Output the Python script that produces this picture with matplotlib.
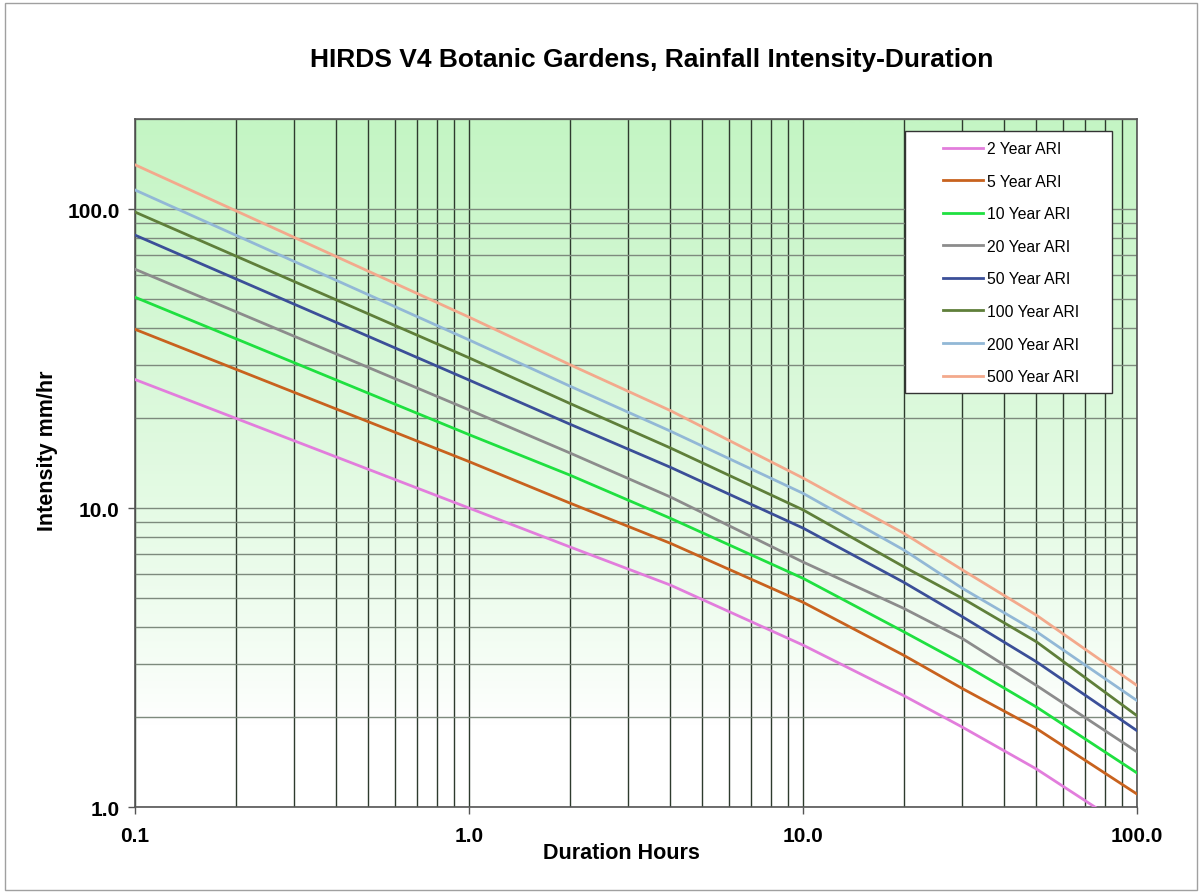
import matplotlib.pyplot as plt
import numpy as np
from matplotlib.colors import LinearSegmentedColormap
from matplotlib.ticker import LogLocator, FixedLocator, NullFormatter

plt.rcParams['font.family'] = ['Liberation Sans', 'DejaVu Sans']

# Durations (hours) at which the curves were read
duration = [0.1, 1, 2, 4, 10, 20, 30, 50, 100]

# Intensity mm/hr for each ARI
ari_2 = [26.9, 10.0, 7.42, 5.53, 3.48, 2.36, 1.85, 1.34, 0.81]
ari_5 = [39.6, 14.3, 10.4, 7.63, 4.84, 3.22, 2.49, 1.83, 1.105]
ari_10 = [50.7, 17.6, 12.9, 9.25, 5.82, 3.86, 3.02, 2.16, 1.30]
ari_20 = [62.9, 21.3, 15.3, 10.9, 6.6, 4.62, 3.66, 2.55, 1.53]
ari_50 = [81.8, 26.8, 19.1, 13.7, 8.57, 5.65, 4.33, 3.06, 1.80]
ari_100 = [97.7, 31.8, 22.4, 15.9, 9.86, 6.37, 4.99, 3.57, 2.02]
ari_200 = [115.8, 36.5, 25.6, 18.1, 11.2, 7.25, 5.39, 3.86, 2.27]
ari_500 = [140.6, 43.5, 30.2, 21.2, 12.6, 8.24, 6.21, 4.38, 2.55]

labels = ['2 Year ARI', '5 Year ARI', '10 Year ARI', '20 Year ARI',
          '50 Year ARI', '100 Year ARI', '200 Year ARI', '500 Year ARI']
colors = ['#e27ddc', '#c8621e', '#1fe040', '#8c8c8c',
          '#3b4f98', '#5f7f3a', '#92b8d6', '#f3a98c']
series = [ari_2, ari_5, ari_10, ari_20, ari_50, ari_100, ari_200, ari_500]

xticks = [0.1, 1, 10, 100]
xticklabels = ['0.1', '1.0', '10.0', '100.0']
yticks = [1, 10, 100]
yticklabels = ['1.0', '10.0', '100.0']

fig = plt.figure(figsize=(12.02, 8.95), dpi=100)
ax = fig.add_axes([0.1123, 0.0972, 0.8336, 0.7687])

# chart border
fig.patches.append(plt.Rectangle((0.004, 0.004), 0.992, 0.992, transform=fig.transFigure,
                                 fill=False, edgecolor='#a0a0a0', linewidth=1))

# green-to-white background gradient
grad = np.linspace(0, 1, 256).reshape(-1, 1)
grad = np.clip((grad - 0.12) / 0.88, 0, 1) ** 0.8
cmap = LinearSegmentedColormap.from_list('bg', ['#ffffff', '#c4f5c4'])
ax.imshow(grad, aspect='auto', cmap=cmap, origin='lower',
          extent=[0, 1, 0, 1], transform=ax.transAxes, zorder=0)

for vals, lab, col in zip(series, labels, colors):
    ax.plot(duration, vals, color=col, linewidth=2, label=lab, zorder=3)

ax.set_xscale('log')
ax.set_yscale('log')
ax.set_xlim(0.1, 100)
ax.set_ylim(1, 200)

ax.xaxis.set_major_locator(FixedLocator(xticks))
ax.set_xticklabels(xticklabels, fontsize=15, fontweight='bold')
ax.yaxis.set_major_locator(FixedLocator(yticks))
ax.set_yticklabels(yticklabels, fontsize=15, fontweight='bold')
ax.xaxis.set_minor_locator(LogLocator(base=10, subs=np.arange(2, 10)))
ax.yaxis.set_minor_locator(LogLocator(base=10, subs=np.arange(2, 10)))
ax.xaxis.set_minor_formatter(NullFormatter())
ax.yaxis.set_minor_formatter(NullFormatter())
ax.tick_params(which='minor', length=0)
ax.tick_params(which='major', length=5, width=1, color='#555555', pad=6)
ax.tick_params(axis='x', which='major', pad=9)

ax.grid(True, axis='x', which='both', color='#2e3b2e', linewidth=1, zorder=1)
ax.grid(True, axis='y', which='both', color='#7d8a7d', linewidth=1, zorder=1)
ax.set_axisbelow(True)

for s in ax.spines.values():
    s.set_color('#555555')
    s.set_linewidth(1.2)

ax.set_xlabel('Duration Hours', fontsize=15.5, fontweight='bold')
ax.set_ylabel('Intensity mm/hr', fontsize=15.5, fontweight='bold')
ax.xaxis.set_label_coords(0.485, -0.051)
ax.yaxis.set_label_coords(-0.077, 0.52)
fig.text(0.542, 0.933, 'HIRDS V4 Botanic Gardens, Rainfall Intensity-Duration',
         ha='center', va='center', fontsize=19, fontweight='bold')

# legend box drawn as a plain rectangle, entries placed inside it
ax.add_patch(plt.Rectangle((0.7685, 0.6017), 0.2065, 0.3809, transform=ax.transAxes,
                           facecolor='white', edgecolor='#333333', linewidth=1, zorder=4))
leg = ax.legend(loc='upper left', bbox_to_anchor=(0.806, 0.968), fontsize=11.3,
                frameon=False, labelspacing=1.12, handlelength=2.6,
                handletextpad=0.2, borderpad=0, borderaxespad=0)
leg.set_zorder(5)

fig.savefig('out.png', dpi=100)
